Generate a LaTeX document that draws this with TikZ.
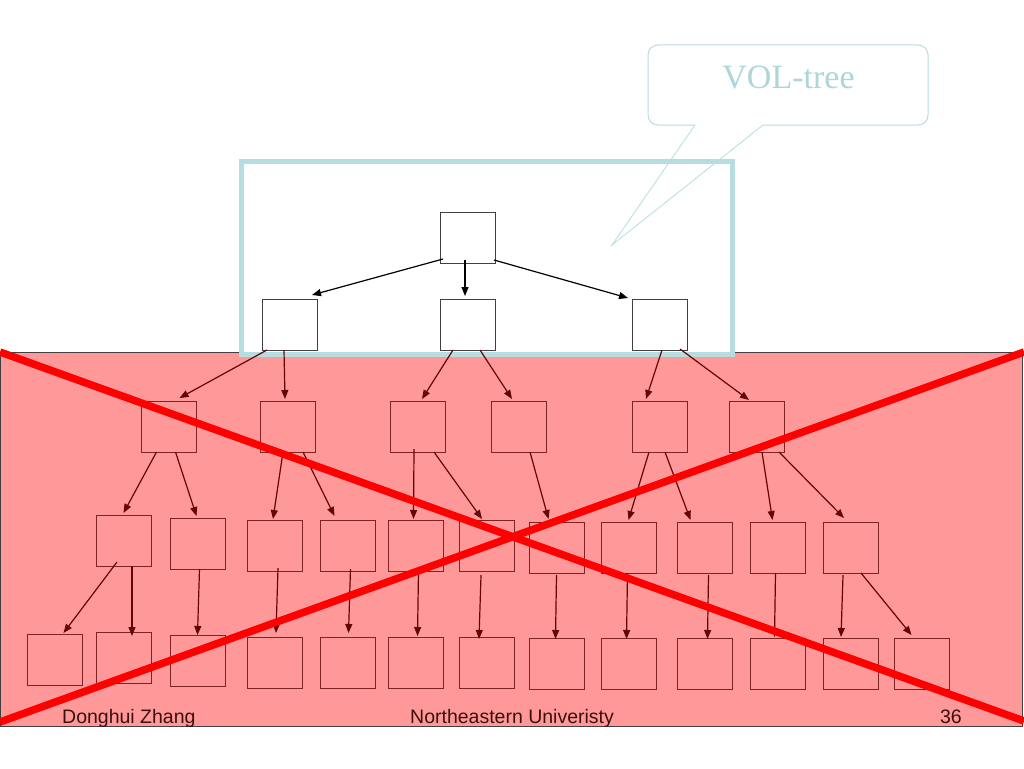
\documentclass[tikz,border=0pt]{standalone}
\usepackage{fontspec}
\setmainfont{Liberation Serif}
\newfontfamily\arialf{Liberation Sans}
\usetikzlibrary{arrows.meta}
\definecolor{pinkbg}{RGB}{255,153,153}
\definecolor{boxred}{RGB}{125,35,35}
\definecolor{arrred}{RGB}{100,5,5}
\definecolor{tealc}{RGB}{183,221,224}
\definecolor{tealt}{RGB}{172,214,216}
\definecolor{footc}{RGB}{60,15,15}
\begin{document}
\begin{tikzpicture}[x=1pt,y=1pt,
  tbox/.style={draw=black!75, line width=1pt, minimum width=55pt, minimum height=51pt, inner sep=0pt, outer sep=0pt, anchor=north west},
  pbox/.style={tbox, draw=boxred},
  arb/.style={-{Triangle[length=9pt,width=7pt]}, line width=1.2pt, black},
  arr/.style={-{Triangle[length=9pt,width=7pt]}, line width=1.2pt, arrred},
  foot/.style={text=footc, font=\arialf\fontsize{19.5}{23}\selectfont, inner sep=0pt}]
\useasboundingbox (0,0) rectangle (1024,-768);
\fill[white] (0,0) rectangle (1024,-768);
% pink area
\draw[fill=pinkbg, draw=black!75, line width=1pt] (0.5,-352) rectangle (1022,-726);
% callout
\draw[tealc, line width=1pt, rounded corners=10pt] (695,-125) -- (648,-125) -- (648,-45) -- (928,-45) -- (928,-125) -- (763,-125);
\node[text=tealt, font=\fontsize{34}{40}\selectfont, anchor=base, inner sep=0pt] (vol) at (788.5,-88) {VOL-tree};
% teal box
\draw[tealc, line width=5pt] (241,-161) rectangle (732.5,-354.5);
\draw[tealc, line width=0.8pt] (763,-125) -- (612,-245) -- (695,-125);
% level 1,2
\node[tbox] (t) at (440,-212) {};
\node[tbox] (a) at (262,-299) {};
\node[tbox] (b) at (440,-299) {};
\node[tbox] (c) at (632,-299) {};
% level 3
\node[pbox] (d1) at (141,-401) {};
\node[pbox] (d2) at (260,-401) {};
\node[pbox] (d3) at (390,-401) {};
\node[pbox] (d4) at (491,-401) {};
\node[pbox] (d5) at (632,-401) {};
\node[pbox] (d6) at (729,-401) {};
% level 4
\node[pbox] (e1) at (96,-515) {};
\node[pbox] (e2) at (170,-518) {};
\node[pbox] (e3) at (247,-520) {};
\node[pbox] (e4) at (320,-520) {};
\node[pbox] (e5) at (388,-520) {};
\node[pbox] (e6) at (459,-520) {};
\node[pbox] (e7) at (529,-522) {};
\node[pbox] (e8) at (601,-522) {};
\node[pbox] (e9) at (677,-522) {};
\node[pbox] (e10) at (750,-522) {};
\node[pbox] (e11) at (823,-522) {};
% level 5
\node[pbox] (f1) at (27,-634) {};
\node[pbox] (f2) at (96,-632) {};
\node[pbox] (f3) at (170,-635) {};
\node[pbox] (f4) at (247,-637) {};
\node[pbox] (f5) at (320,-637) {};
\node[pbox] (f6) at (388,-637) {};
\node[pbox] (f7) at (459,-637) {};
\node[pbox] (f8) at (529,-638) {};
\node[pbox] (f9) at (601,-638) {};
\node[pbox] (f10) at (677,-638) {};
\node[pbox] (f11) at (750,-638) {};
\node[pbox] (f12) at (823,-638) {};
\node[pbox] (f13) at (894,-638) {};
% arrows level 1 -> 2
\draw[arb] ([shift={(-24.5,4)}]t.south) -- ([shift={(22.5,4)}]a.north);
\draw[arb] ([shift={(-2.5,3)}]t.south) -- ([shift={(-2.5,3)}]b.north);
\draw[arb] ([shift={(26.5,3)}]t.south) -- ([shift={(-31.5,1)}]c.north);
% level 2 -> 3
\draw[arr] ([shift={(-22.5,0)}]a.south) -- ([shift={(11,3)}]d1.north);
\draw[arr] ([shift={(-5.5,0)}]a.south) -- ([shift={(-2.5,2)}]d2.north);
\draw[arr] ([shift={(-14.5,0)}]b.south) -- ([shift={(4.5,2)}]d3.north);
\draw[arr] ([shift={(12.5,0)}]b.south) -- ([shift={(-6.5,2)}]d4.north);
\draw[arr] ([shift={(2.5,0)}]c.south) -- ([shift={(-13.5,2)}]d5.north);
\draw[arr] ([shift={(20.5,1)}]c.south) -- ([shift={(-7.5,1)}]d6.north);
% level 3 -> 4
\draw[arr] ([shift={(-12,0)}]d1.south) -- ([shift={(0,2)}]e1.north);
\draw[arr] ([shift={(7,0)}]d1.south) -- ([shift={(-1,2)}]e2.north);
\draw[arr] ([shift={(-4.5,0)}]d2.south) -- ([shift={(-1.5,1)}]e3.north);
\draw[arr] ([shift={(15.5,0)}]d2.south) -- ([shift={(-13,4)}]e4.north);
\draw[arr] ([shift={(-3.5,3)}]d3.south) -- ([shift={(-2,1)}]e5.north);
\draw[arr] ([shift={(16.5,0)}]d3.south) -- ([shift={(-4.5,1)}]e6.north);
\draw[arr] ([shift={(11.5,0)}]d4.south) -- ([shift={(-8,3)}]e7.north);
\draw[arr] ([shift={(-10.5,0)}]d5.south) -- ([shift={(0,2)}]e8.north);
\draw[arr] ([shift={(5.5,0)}]d5.south) -- ([shift={(-14,2)}]e9.north);
\draw[arr] ([shift={(5.5,0)}]d6.south) -- ([shift={(-5,2)}]e10.north);
\draw[arr] ([shift={(22.5,0)}]d6.south) -- ([shift={(-6.5,4)}]e11.north);
% level 4 -> 5
\draw[arr] ([shift={(-6.5,4)}]e1.south) -- ([shift={(9,1)}]f1.north);
\draw[arr] ([shift={(8.5,0)}]e1.south) -- ([shift={(8.5,-4)}]f2.north);
\draw[arr] ([shift={(2,0)}]e2.south) -- ([shift={(0,0)}]f3.north);
\draw[arr] ([shift={(3.5,3)}]e3.south) -- ([shift={(1.5,4)}]f4.north);
\draw[arr] ([shift={(3,2)}]e4.south) -- ([shift={(1,4)}]f5.north);
\draw[arr] ([shift={(3,0)}]e5.south) -- ([shift={(2,1)}]f6.north);
\draw[arr] ([shift={(-5.5,-4)}]e6.south) -- ([shift={(-7.5,-2)}]f7.north);
\draw[arr] ([shift={(0,-2)}]e7.south) -- ([shift={(-1,-1)}]f8.north);
\draw[arr] ([shift={(-1,0)}]e8.south) -- ([shift={(-2,-1)}]f9.north);
\draw[arr] ([shift={(4,-2)}]e9.south) -- ([shift={(3,-1)}]f10.north);
\draw[arr] ([shift={(-2,0)}]e10.south) -- ([shift={(-3,1)}]f11.north);
\draw[arr] ([shift={(-7.5,-2)}]e11.south) -- ([shift={(-9.5,1)}]f12.north);
\draw[arr] ([shift={(10.5,0)}]e11.south) -- ([shift={(-10,3)}]f13.north);
% red cross
\draw[red, line width=7.5pt] (0,-352) -- (1024,-721);
\draw[red, line width=7.5pt] (0,-722) -- (1024,-352);
% footer
\node[foot, anchor=base west] (fa) at (62,-723) {Donghui Zhang};
\node[foot, anchor=base west] (fb) at (410,-723) {Northeastern Univeristy};
\node[foot, anchor=base east] (fc) at (962,-723) {36};
\end{tikzpicture}
\end{document}
